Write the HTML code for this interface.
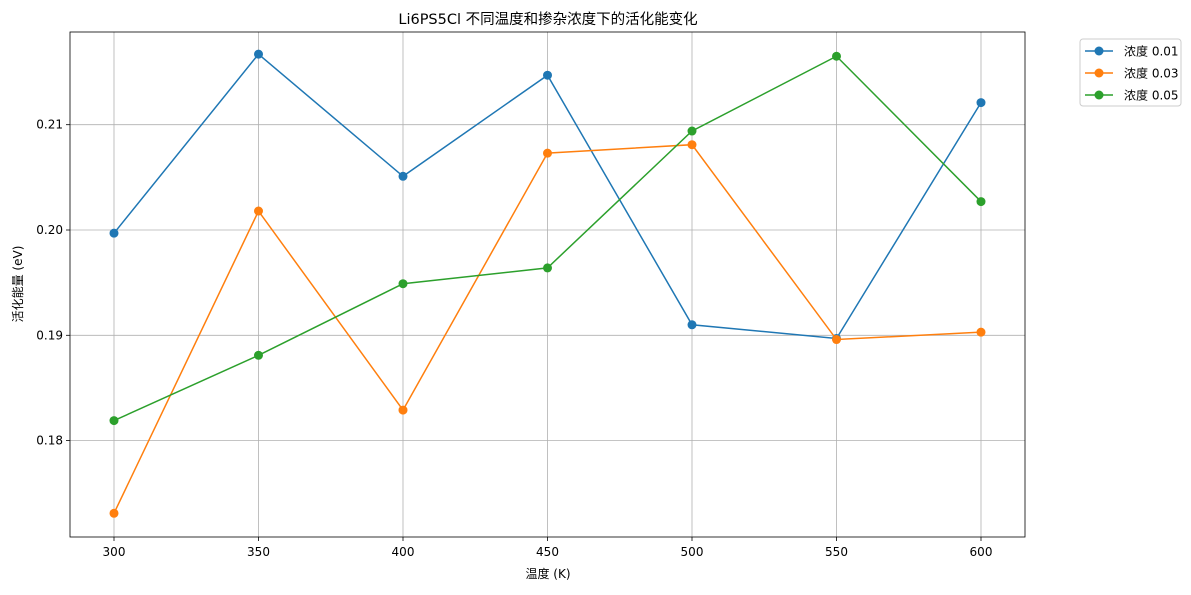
<!DOCTYPE html>
<html><head><meta charset="utf-8"><style>
body{margin:0;background:#fff;font-family:"Liberation Sans","DejaVu Sans","Noto Sans CJK SC",sans-serif;}
svg text{font-family:"DejaVu Sans","Liberation Sans","Noto Sans CJK SC",sans-serif;}
</style></head><body>
<svg id="chart" width="1191" height="590"></svg>
<script>
const xValues=[300,350,400,450,500,550,600];
const seriesA=[0.1997,0.2167,0.2051,0.2147,0.1910,0.1897,0.2121];
const seriesB=[0.1731,0.2018,0.1829,0.2073,0.2081,0.1896,0.1903];
const seriesC=[0.1819,0.1881,0.1949,0.1964,0.2094,0.2165,0.2027];
const seriesLabels=["浓度 0.01","浓度 0.03","浓度 0.05"];
const xTicks=[300,350,400,450,500,550,600];
const yTicks=[0.18,0.19,0.20,0.21];
const yTickLabels=["0.18","0.19","0.20","0.21"];
const colors=["#1f77b4","#ff7f0e","#2ca02c"];
const L=70,R=1025,T=32,B=537;
const sx=v=>114+(v-300)*(981-114)/300;
const sy=v=>230-(v-0.20)*10530;
const svg=document.getElementById('chart');
const NS='http://www.w3.org/2000/svg';
function mk(tag,attrs,parent){const e=document.createElementNS(NS,tag);for(const k in attrs)e.setAttribute(k,attrs[k]);(parent||svg).appendChild(e);return e;}
// grid
xTicks.forEach(t=>{
 const g=mk('line',{x1:sx(t),x2:sx(t),y1:T,y2:B,stroke:'#b0b0b0','stroke-width':0.8});
 
 
 mk('line',{x1:sx(t),x2:sx(t),y1:B,y2:B+4,stroke:'#000','stroke-width':0.8});
 const tx=mk('text',{x:sx(t),y:B+19,'text-anchor':'middle','font-size':12});tx.textContent=t;
 
 
});
yTicks.forEach((t,i)=>{
 const g=mk('line',{x1:L,x2:R,y1:sy(t),y2:sy(t),stroke:'#b0b0b0','stroke-width':0.8});
 
 
 mk('line',{x1:L-4,x2:L,y1:sy(t),y2:sy(t),stroke:'#000','stroke-width':0.8});
 const tx=mk('text',{x:L-7,y:sy(t)+4,'text-anchor':'end','font-size':12});tx.textContent=yTickLabels[i];
 
 
});
[seriesA,seriesB,seriesC].forEach((s,k)=>{
 const pts=s.map((v,i)=>sx(xValues[i])+','+sy(v)).join(' ');
 const pl=mk('polyline',{points:pts,fill:'none',stroke:colors[k],'stroke-width':1.5});
 
 
 s.forEach((v,i)=>{const c=mk('circle',{cx:sx(xValues[i]),cy:sy(v),r:4.5,fill:colors[k]});
  
  });
});
const frame=mk('rect',{x:L,y:T,width:R-L,height:B-T,fill:'none',stroke:'#000','stroke-width':0.8});


const title=mk('text',{x:548,y:24,'text-anchor':'middle','font-size':14.5});title.textContent='Li6PS5Cl 不同温度和掺杂浓度下的活化能变化';


const xl=mk('text',{x:548,y:578,'text-anchor':'middle','font-size':12});xl.textContent='温度 (K)';


const yl=mk('text',{x:22,y:284,'text-anchor':'middle','font-size':12,transform:'rotate(-90 22 284)'});yl.textContent='活化能量 (eV)';


const lg=mk('rect',{x:1080,y:39,width:101,height:67,rx:3,fill:'#fff',stroke:'#ccc','stroke-width':1});


seriesLabels.forEach((lab,k)=>{
 const y=51+k*22;
 mk('line',{x1:1085,x2:1113,y1:y,y2:y,stroke:colors[k],'stroke-width':1.5});
 mk('circle',{cx:1099,cy:y,r:4.5,fill:colors[k]});
 const t=mk('text',{x:1124,y:y+4.5,'font-size':12});t.textContent=lab;
 
 
});
</script>
</body></html>
